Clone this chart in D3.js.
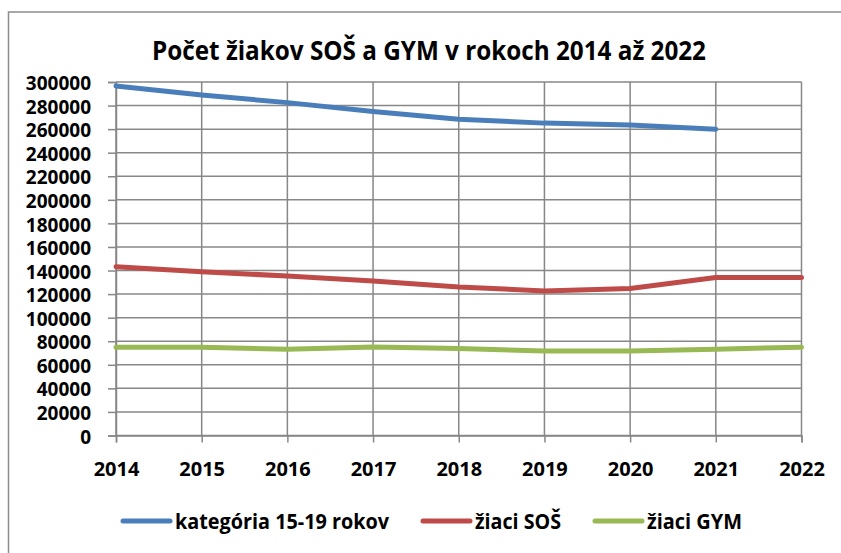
<!DOCTYPE html>
<html>
<head>
<meta charset="utf-8">
<script src="https://cdn.jsdelivr.net/npm/d3@7"></script>
<style>
  body { margin: 0; background: #fff; }
  text { font-family: "Open Sans", "DejaVu Sans", sans-serif; font-weight: bold; fill: #000; }
</style>
</head>
<body>
<div id="container"></div>
<script>
/* CONSTANTS AND GLOBALS */
const width = 841,
  height = 553,
  margin = { top: 82, bottom: 117, left: 116, right: 40 };

// data
const years = [2014, 2015, 2016, 2017, 2018, 2019, 2020, 2021, 2022];
const kategoria = [296600, 289000, 282500, 274900, 268400, 265100, 263600, 260000, null];
const ziaciSOS = [143300, 139000, 135300, 131100, 126000, 122700, 124700, 134000, 134000];
const ziaciGYM = [74900, 74900, 73300, 75200, 73800, 71800, 71800, 73300, 74900];
const yTicks = d3.range(0, 300001, 20000);

const series = [
  { name: "kategória 15-19 rokov", values: kategoria, color: "#4a7ebb", textW: 214 },
  { name: "žiaci SOŠ", values: ziaciSOS, color: "#be4b48", textW: 86 },
  { name: "žiaci GYM", values: ziaciGYM, color: "#98b954", textW: 95 }
];

const gridColor = "#878787";

const svg = d3.select("#container")
  .append("svg")
  .attr("width", width)
  .attr("height", height);

// chart border (runs off the right and bottom edge)
svg.append("rect")
  .attr("x", 8.5).attr("y", 12)
  .attr("width", 860).attr("height", 560)
  .attr("fill", "none")
  .attr("stroke", "#8c8c8c")
  .attr("stroke-width", 1.5);

// + SCALES
const xScale = d3.scaleLinear()
  .domain([2014, 2022])
  .range([margin.left, 801.5]);

const yScale = d3.scaleLinear()
  .domain([0, 300000])
  .range([435.5, margin.top]);

// + GRID
svg.append("g")
  .selectAll("line")
  .data(yTicks)
  .join("line")
  .attr("x1", margin.left).attr("x2", xScale(2022))
  .attr("y1", d => yScale(d)).attr("y2", d => yScale(d))
  .attr("stroke", gridColor)
  .attr("stroke-width", 1.5);

svg.append("g")
  .selectAll("line")
  .data(years)
  .join("line")
  .attr("x1", d => xScale(d)).attr("x2", d => xScale(d))
  .attr("y1", yScale(300000)).attr("y2", yScale(0))
  .attr("stroke", gridColor)
  .attr("stroke-width", 1.5);

// + AXES
const yAxis = d3.axisLeft(yScale).tickValues(yTicks).tickSize(8).tickPadding(17).tickFormat(d3.format("d"));
const xAxis = d3.axisBottom(xScale).tickValues(years).tickSize(7).tickPadding(19).tickFormat(d3.format("d"));

const gy = svg.append("g")
  .attr("transform", `translate(${margin.left},0)`)
  .call(yAxis);
const gx = svg.append("g")
  .attr("transform", `translate(0,${yScale(0)})`)
  .call(xAxis);

[gx, gy].forEach(g => {
  g.select(".domain").attr("stroke", gridColor).attr("stroke-width", 1.5);
  g.selectAll(".tick line").attr("stroke", gridColor).attr("stroke-width", 1.5);
  g.selectAll(".tick text").attr("font-family", "'Liberation Sans', Arial, sans-serif").attr("font-weight", "bold").attr("fill", "#000");
});
gx.selectAll(".tick text").attr("font-size", "20px");
// y labels sit close together, keep them a touch smaller so they don't collide
gy.selectAll(".tick text").attr("font-size", "19px").attr("dy", "0.4em");

// + LINES
const line = d3.line()
  .defined(d => d[1] != null)
  .x(d => xScale(d[0]))
  .y(d => yScale(d[1]));

svg.append("g")
  .selectAll("path")
  .data(series)
  .join("path")
  .attr("d", s => line(years.map((y, i) => [y, s.values[i]])))
  .attr("fill", "none")
  .attr("stroke", s => s.color)
  .attr("stroke-width", 5)
  .attr("stroke-linecap", "round")
  .attr("stroke-linejoin", "round");

// + TITLE (Calibri-like narrow look: squeeze to the reference width)
svg.append("text")
  .attr("x", 152)
  .attr("y", 60)
  .attr("font-size", "27px")
  .attr("textLength", 554)
  .attr("lengthAdjust", "spacingAndGlyphs")
  .text("Počet žiakov SOŠ a GYM v rokoch 2014 až 2022");

// + LEGEND
const legend = svg.append("g").attr("class", "legend");
let lx = 123;
const ly = 521;
series.forEach(s => {
  legend.append("line")
    .attr("x1", lx).attr("x2", lx + 47)
    .attr("y1", ly).attr("y2", ly)
    .attr("stroke", s.color)
    .attr("stroke-width", 5)
    .attr("stroke-linecap", "round");
  legend.append("text")
    .attr("x", lx + 52)
    .attr("y", ly + 7.5)
    .attr("font-size", "21px")
    .attr("textLength", s.textW)
    .attr("lengthAdjust", "spacingAndGlyphs")
    .text(s.name);
  lx += 52 + s.textW + 34;
});
</script>
</body>
</html>
